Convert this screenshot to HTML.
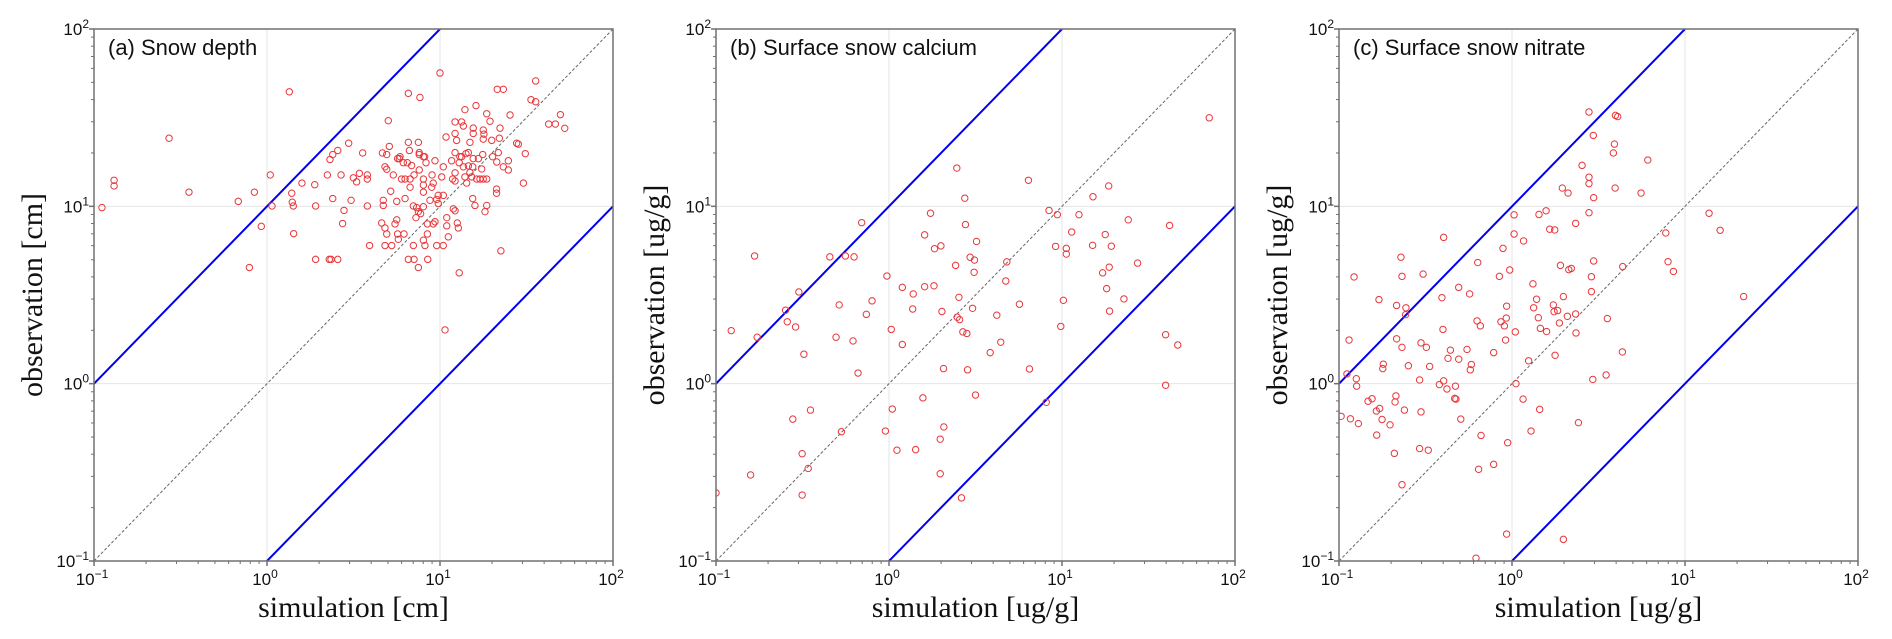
<!DOCTYPE html>
<html><head><meta charset="utf-8"><style>
html,body{margin:0;padding:0;background:#fff;}
svg{display:block;}
</style></head><body>
<svg id="chart" xmlns="http://www.w3.org/2000/svg" width="1892" height="639" viewBox="0 0 1892 639"></svg>
<script>
// Data values are log10(simulation), log10(observation)
const pointsA = [[-0.954,0.993],[-0.884,1.147],[-0.884,1.115],[-0.566,1.384],[-0.451,1.080],[-0.166,1.028],[-0.102,0.655],[-0.073,1.080],[-0.033,0.887],[0.019,1.177],[0.029,1.002],[0.129,1.646],[0.143,1.074],[0.146,1.023],[0.152,1.002],[0.154,0.846],[0.202,1.131],[0.276,1.122],[0.281,1.002],[0.281,0.701],[0.349,1.177],[0.360,0.701],[0.370,0.701],[0.409,0.701],[0.364,1.264],[0.380,1.292],[0.409,1.315],[0.380,1.044],[0.428,1.177],[0.445,0.977],[0.437,0.903],[0.472,1.356],[0.486,1.034],[0.499,1.161],[0.518,1.138],[0.534,1.186],[0.553,1.301],[0.580,1.177],[0.580,1.154],[0.580,1.002],[0.593,0.779],[0.663,0.906],[0.667,1.301],[0.692,1.292],[0.672,1.034],[0.672,1.005],[0.682,1.223],[0.692,1.209],[0.682,0.878],[0.692,0.844],[0.682,0.779],[0.721,0.779],[0.701,1.483],[0.707,1.338],[0.715,1.085],[0.730,1.177],[0.740,0.901],[0.750,0.924],[0.755,0.844],[0.750,1.028],[0.755,1.269],[0.765,1.269],[0.769,1.280],[0.759,0.814],[0.778,1.154],[0.798,1.154],[0.788,1.246],[0.811,1.246],[0.792,0.844],[0.798,1.044],[0.817,1.637],[0.817,1.361],[0.823,1.315],[0.827,1.154],[0.827,1.108],[0.817,0.701],[0.836,1.230],[0.850,1.177],[0.846,1.002],[0.846,0.779],[0.850,0.701],[0.861,0.936],[0.865,0.993],[0.875,0.970],[0.875,1.361],[0.880,1.303],[0.880,1.292],[0.880,1.205],[0.875,0.655],[0.884,1.614],[0.888,0.959],[0.904,0.998],[0.904,1.120],[0.904,1.080],[0.904,1.154],[0.904,1.280],[0.911,1.280],[0.904,0.809],[0.913,0.779],[0.919,1.246],[0.927,0.844],[0.927,0.901],[0.929,0.701],[0.942,1.034],[0.952,1.108],[0.954,1.177],[0.961,1.131],[0.971,1.257],[0.961,0.901],[0.971,0.913],[0.981,0.779],[0.981,1.039],[0.990,1.062],[0.990,1.016],[1.000,1.752],[1.010,1.166],[1.019,1.223],[1.019,1.062],[1.019,0.779],[1.029,0.303],[1.035,1.391],[1.039,0.936],[1.039,0.890],[1.048,0.828],[1.067,1.257],[1.073,1.154],[1.077,0.986],[1.087,0.975],[1.087,1.143],[1.087,1.189],[1.087,1.303],[1.087,1.476],[1.087,1.411],[1.096,1.372],[1.100,0.906],[1.106,0.878],[1.111,0.625],[1.111,1.246],[1.115,1.280],[1.125,1.476],[1.125,1.280],[1.135,1.453],[1.135,1.223],[1.144,1.545],[1.144,1.166],[1.150,1.297],[1.154,1.131],[1.164,1.303],[1.164,1.228],[1.173,1.361],[1.173,1.191],[1.183,1.166],[1.189,1.223],[1.192,1.269],[1.192,1.411],[1.192,1.441],[1.189,1.044],[1.202,1.005],[1.208,1.568],[1.212,1.154],[1.222,1.269],[1.231,1.154],[1.241,1.211],[1.247,1.292],[1.250,1.379],[1.250,1.430],[1.254,1.407],[1.260,0.970],[1.250,1.154],[1.270,1.522],[1.270,1.005],[1.270,1.154],[1.289,1.480],[1.299,1.372],[1.304,1.280],[1.327,1.074],[1.327,1.097],[1.331,1.660],[1.337,1.303],[1.343,1.384],[1.347,1.441],[1.366,1.660],[1.366,1.223],[1.395,1.257],[1.395,1.205],[1.405,1.515],[1.443,1.356],[1.352,0.749],[1.553,1.707],[1.526,1.601],[1.553,1.590],[1.628,1.464],[1.667,1.464],[1.696,1.517],[1.721,1.440],[1.453,1.351],[1.493,1.297],[1.482,1.131],[1.328,1.250]];
const pointsB = [[-1.0,-0.616],[-0.912,0.299],[-0.777,0.720],[-0.800,-0.515],[-0.762,0.262],[-0.598,0.414],[-0.588,0.349],[-0.540,0.320],[-0.521,0.517],[-0.492,0.166],[-0.556,-0.200],[-0.502,-0.395],[-0.502,-0.628],[-0.467,-0.478],[-0.454,-0.149],[-0.342,0.715],[-0.288,0.444],[-0.306,0.262],[-0.275,-0.271],[-0.252,0.720],[-0.202,0.715],[-0.208,0.241],[-0.179,0.060],[-0.158,0.908],[-0.131,0.391],[-0.098,0.467],[-0.021,-0.267],[-0.012,0.607],[0.013,0.306],[0.019,-0.143],[0.046,-0.375],[0.077,0.543],[0.077,0.221],[0.137,0.421],[0.140,0.506],[0.154,-0.372],[0.196,-0.080],[0.206,0.547],[0.206,0.839],[0.240,0.961],[0.260,0.552],[0.263,0.761],[0.300,0.777],[0.306,0.407],[0.296,-0.313],[0.296,-0.508],[0.315,0.085],[0.317,-0.244],[0.385,0.667],[0.392,1.216],[0.394,0.375],[0.408,0.361],[0.404,0.487],[0.419,-0.644],[0.427,0.292],[0.450,0.283],[0.438,1.046],[0.442,0.897],[0.454,0.078],[0.469,0.713],[0.494,0.697],[0.492,0.628],[0.483,0.425],[0.500,-0.064],[0.506,0.802],[0.585,0.175],[0.623,0.386],[0.646,0.234],[0.675,0.579],[0.681,0.687],[0.754,0.448],[0.806,1.147],[0.812,0.083],[0.925,0.977],[0.973,0.953],[1.098,0.953],[1.179,1.054],[1.056,0.855],[0.963,0.774],[1.025,0.763],[1.025,0.731],[1.177,0.780],[1.008,0.470],[0.993,0.323],[0.909,-0.105],[1.851,1.499],[1.270,1.115],[1.383,0.924],[1.622,0.892],[1.250,0.841],[1.285,0.775],[1.235,0.625],[1.273,0.657],[1.437,0.680],[1.258,0.536],[1.358,0.478],[1.275,0.409],[1.599,0.276],[1.669,0.218],[1.599,-0.009]];
const pointsC = [[-0.988,-0.184],[-0.954,0.055],[-0.942,0.246],[-0.934,-0.198],[-0.913,0.602],[-0.900,0.028],[-0.898,-0.014],[-0.888,-0.225],[-0.832,-0.099],[-0.809,-0.085],[-0.784,-0.154],[-0.769,0.474],[-0.765,-0.140],[-0.751,-0.202],[-0.782,-0.290],[-0.744,0.110],[-0.747,0.085],[-0.705,-0.232],[-0.680,-0.393],[-0.667,0.441],[-0.667,0.253],[-0.671,-0.069],[-0.676,-0.103],[-0.642,0.713],[-0.636,0.605],[-0.636,0.205],[-0.636,-0.570],[-0.622,-0.149],[-0.613,0.428],[-0.615,0.389],[-0.599,0.101],[-0.534,0.021],[-0.526,0.230],[-0.514,0.618],[-0.526,-0.159],[-0.534,-0.366],[-0.495,0.205],[-0.484,-0.375],[-0.476,0.097],[-0.420,-0.005],[-0.405,0.485],[-0.399,0.306],[-0.395,0.825],[-0.395,0.016],[-0.376,-0.030],[-0.370,0.143],[-0.356,0.189],[-0.327,-0.014],[-0.331,-0.083],[-0.324,-0.087],[-0.308,0.543],[-0.308,0.138],[-0.296,-0.200],[-0.260,0.193],[-0.245,0.506],[-0.235,0.108],[-0.241,0.078],[-0.208,-0.984],[-0.202,0.354],[-0.183,0.326],[-0.198,0.683],[-0.193,-0.483],[-0.179,-0.292],[-0.106,0.175],[-0.106,-0.455],[-0.073,0.605],[-0.064,0.349],[-0.052,0.763],[-0.044,0.326],[-0.037,0.246],[-0.033,0.370],[-0.031,0.437],[-0.031,-0.848],[-0.025,-0.333],[-0.013,0.641],[0.012,0.952],[0.012,0.844],[0.019,0.292],[0.023,0.000],[0.064,-0.087],[0.067,0.805],[0.096,0.129],[0.110,-0.267],[0.121,0.563],[0.125,0.428],[0.142,0.476],[0.152,0.372],[0.160,-0.145],[0.164,0.312],[0.156,0.954],[0.197,0.975],[0.200,0.294],[0.218,0.871],[0.445,1.532],[0.598,1.513],[0.611,1.506],[0.470,1.400],[0.592,1.351],[0.586,1.301],[0.785,1.261],[0.405,1.231],[0.445,1.164],[0.445,1.128],[0.291,1.103],[0.324,1.075],[0.596,1.103],[0.746,1.075],[0.472,1.049],[0.445,0.964],[1.139,0.961],[1.203,0.865],[0.247,0.867],[0.368,0.904],[0.889,0.850],[0.472,0.692],[0.280,0.667],[0.328,0.643],[0.343,0.650],[0.459,0.603],[0.640,0.660],[0.902,0.688],[0.933,0.633],[0.459,0.519],[0.297,0.491],[1.339,0.491],[0.239,0.444],[0.243,0.406],[0.264,0.412],[0.320,0.380],[0.368,0.393],[0.274,0.342],[0.551,0.367],[0.370,0.286],[0.249,0.160],[0.638,0.179],[0.467,0.024],[0.544,0.049],[0.384,-0.220],[0.297,-0.878]];
const decadeExps = [-1, 0, 1, 2];
const panelTitles = ["(a) Snow depth", "(b) Surface snow calcium", "(c) Surface snow nitrate"];
const xTitles = ["simulation [cm]", "simulation [ug/g]", "simulation [ug/g]"];
const yTitles = ["observation [cm]", "observation [ug/g]", "observation [ug/g]"];

const NS = "http://www.w3.org/2000/svg";
const svg = document.getElementById('chart');
const lefts = [94, 716, 1339];
const TOP = 29, BOT = 561, W = 519;
function mk(tag, attrs, parent) {
  const e = document.createElementNS(NS, tag);
  for (const k in attrs) e.setAttribute(k, attrs[k]);
  (parent || svg).appendChild(e);
  return e;
}
function drawPanel(i, pts) {
  const L = lefts[i], R = L + W;
  const xs = v => L + (v + 1) / 3 * W;          // log10 -> px
  const ys = v => BOT - (v + 1) / 3 * (BOT - TOP);
  const g = mk('g', {});
  
  
  // grid
  decadeExps.forEach(e => {
    const gx = mk('line', {x1: xs(e), x2: xs(e), y1: TOP, y2: BOT, stroke: '#e6e6e6', 'stroke-width': 1}, g);
    
    
    const gy = mk('line', {x1: L, x2: R, y1: ys(e), y2: ys(e), stroke: '#e6e6e6', 'stroke-width': 1}, g);
    
    
  });
  // reference lines
  const clip = 'clip' + i;
  const cp = mk('clipPath', {id: clip}, g);
  mk('rect', {x: L, y: TOP, width: W, height: BOT - TOP}, cp);
  const one = mk('line', {x1: xs(-1), y1: ys(-1), x2: xs(2), y2: ys(2), stroke: '#666', 'stroke-width': 1, 'stroke-dasharray': '3,2'}, g);
  
  
  const up = mk('line', {x1: xs(-1), y1: ys(0), x2: xs(1), y2: ys(2), stroke: '#0000ee', 'stroke-width': 2, 'clip-path': 'url(#' + clip + ')'}, g);
  
  
  const lo = mk('line', {x1: xs(0), y1: ys(-1), x2: xs(2), y2: ys(1), stroke: '#0000ee', 'stroke-width': 2, 'clip-path': 'url(#' + clip + ')'}, g);
  
  
  // points
  pts.forEach(p => {
    const c = mk('circle', {cx: xs(p[0]), cy: ys(p[1]), r: 3.2, fill: 'none', stroke: '#e8363a', 'stroke-width': 1, 'clip-path': 'url(#' + clip + ')'}, g);
    
    
  });
  // frame
  const fr = mk('rect', {x: L, y: TOP, width: W, height: BOT - TOP, fill: 'none', stroke: '#707070', 'stroke-width': 1.5}, g);
  
  
  // ticks
  for (let e = -1; e < 2; e++) {
    for (let m = 2; m <= 9; m++) {
      const v = e + Math.log10(m);
      mk('line', {x1: L - 3, x2: L, y1: ys(v), y2: ys(v), stroke: '#707070', 'stroke-width': 1}, g);
      mk('line', {x1: xs(v), x2: xs(v), y1: BOT, y2: BOT + 3, stroke: '#707070', 'stroke-width': 1}, g);
    }
  }
  decadeExps.forEach(e => {
    mk('line', {x1: L - 5, x2: L, y1: ys(e), y2: ys(e), stroke: '#707070', 'stroke-width': 1.5}, g);
    mk('line', {x1: xs(e), x2: xs(e), y1: BOT, y2: BOT + 5, stroke: '#707070', 'stroke-width': 1.5}, g);
    const sup = e < 0 ? '\u2212' + (-e) : String(e);
    const ty = mk('text', {x: L - 5, y: ys(e) + 6, 'text-anchor': 'end', 'font-family': 'Liberation Sans, sans-serif', 'font-size': 17, fill: '#111'}, g);
    
    
    ty.innerHTML = '10<tspan dy="-7" font-size="12">' + sup + '</tspan>';
    const tx = mk('text', {x: xs(e) - 2, y: BOT + 24, 'text-anchor': 'middle', 'font-family': 'Liberation Sans, sans-serif', 'font-size': 17, fill: '#111'}, g);
    
    
    tx.innerHTML = '10<tspan dy="-7" font-size="12">' + sup + '</tspan>';
  });
  const t = mk('text', {x: L + 14, y: 55, 'font-family': 'Liberation Sans, sans-serif', 'font-size': 22, fill: '#111'}, g);
  
  
  t.textContent = panelTitles[i];
  const xt = mk('text', {x: L + W / 2, y: 617, 'text-anchor': 'middle', 'font-family': 'Liberation Serif, serif', 'font-size': 30, fill: '#111'}, g);
  
  
  xt.textContent = xTitles[i];
  const yx = L - 52, yy = (TOP + BOT) / 2;
  const yt = mk('text', {x: yx, y: yy, 'text-anchor': 'middle', 'font-family': 'Liberation Serif, serif', 'font-size': 30, fill: '#111', transform: 'rotate(-90 ' + yx + ' ' + yy + ')'}, g);
  
  
  yt.textContent = yTitles[i];
}
drawPanel(0, pointsA);
drawPanel(1, pointsB);
drawPanel(2, pointsC);
</script>
</body></html>
